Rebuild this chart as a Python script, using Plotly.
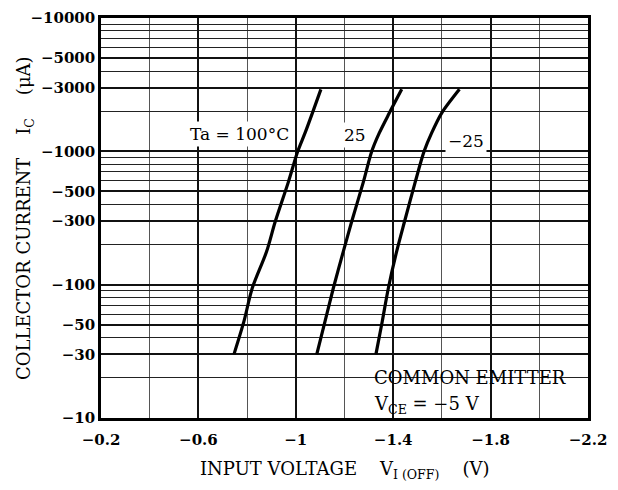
import plotly.graph_objects as go

# ---- data ----
i_pts = [30, 53, 94, 177, 295, 585, 1000, 1374, 1936, 2917]
v_100 = [-0.746, -0.787, -0.821, -0.880, -0.915, -0.969, -1.008, -1.038, -1.068, -1.103]
v_25 = [-1.086, -1.120, -1.154, -1.195, -1.229, -1.277, -1.312, -1.343, -1.384, -1.435]
v_m25 = [-1.329, -1.355, -1.380, -1.414, -1.446, -1.490, -1.527, -1.558, -1.599, -1.672]

x_ticks = [-0.2, -0.6, -1.0, -1.4, -1.8, -2.2]
x_ticktext = ["\u22120.2", "\u22120.6", "\u22121", "\u22121.4", "\u22121.8", "\u22122.2"]
x_minor = [-0.4, -0.8, -1.2, -1.6, -2.0]

y_ticks = [10, 30, 50, 100, 300, 500, 1000, 3000, 5000, 10000]
y_ticktext = ["\u221210", "\u221230", "\u221250", "\u2212100", "\u2212300", "\u2212500",
              "\u22121000", "\u22123000", "\u22125000", "\u221210000"]
y_minor = [20, 40, 60, 70, 80, 90, 200, 400, 600, 700, 800, 900,
           2000, 4000, 6000, 7000, 8000, 9000]

FONT = "DejaVu Serif"

fig = go.Figure()
for v in [v_100, v_25, v_m25]:
    fig.add_trace(go.Scatter(x=v, y=i_pts, mode="lines",
                             line=dict(color="black", width=3.2, shape="spline", smoothing=0.8),
                             showlegend=False, hoverinfo="skip"))

# page body has an 8px default margin: figure is sized/offset to compensate
fig.update_layout(
    width=610, height=482,
    margin=dict(l=93, r=30, t=10, b=72),
    paper_bgcolor="white", plot_bgcolor="white",
    font=dict(family=FONT, color="black", size=15),
    xaxis=dict(range=[-0.2, -2.2], tickvals=x_ticks, ticktext=x_ticktext,
               automargin=False, ticklabelstandoff=6, ticklabeloverflow="allow",
               showgrid=True, gridcolor="#111", gridwidth=2,
               minor=dict(tickvals=x_minor, showgrid=True, gridcolor="#555", gridwidth=1.2, ticklen=0),
               showline=True, linecolor="black", linewidth=2.5, mirror=True,
               ticks="", zeroline=False,
               tickfont=dict(family=FONT, size=15, weight="bold")),
    yaxis=dict(type="log", range=[1, 4], tickvals=y_ticks, ticktext=y_ticktext,
               automargin=False, ticklabeloverflow="allow",
               showgrid=True, gridcolor="#111", gridwidth=1.5,
               minor=dict(tickvals=y_minor, showgrid=True, gridcolor="#222", gridwidth=1.2, ticklen=0),
               showline=True, linecolor="black", linewidth=2.5, mirror=True,
               ticks="", zeroline=False,
               tickfont=dict(family=FONT, size=15, weight="bold")),
)

# white box with conditions
fig.add_shape(type="rect", xref="x", yref="y", x0=-1.2, x1=-2.2, y0=1.0, y1=1.455,
              fillcolor="white", line=dict(color="black", width=1.5), layer="above")

ann = [
    dict(x=-0.767, y=3.131, text="Ta = 100\u00b0C"),
    dict(x=-1.243, y=3.123, text="25"),
    dict(x=-1.699, y=3.079, text="\u221225"),
]
for a in ann:
    fig.add_annotation(x=a["x"], y=a["y"], xref="x", yref="y", text=a["text"],
                       showarrow=False, font=dict(family=FONT, size=17),
                       bgcolor="white", borderpad=2)

fig.add_annotation(x=-1.313, y=1.304, xref="x", yref="y", text="COMMON EMITTER",
                   showarrow=False, xanchor="left", font=dict(family=FONT, size=18))
fig.add_annotation(x=-1.313, y=1.097, xref="x", yref="y",
                   text="V<sub>CE</sub> = \u22125 V",
                   showarrow=False, xanchor="left", font=dict(family=FONT, size=18))

# axis titles
fig.add_annotation(x=0.5, y=0, xref="paper", yref="paper", yshift=-52,
                   text="INPUT VOLTAGE    V<sub>I (OFF)</sub>    (V)",
                   showarrow=False, xanchor="center", yanchor="middle",
                   font=dict(family=FONT, size=18))
fig.add_annotation(x=0, y=0.5, xref="paper", yref="paper", xshift=-76,
                   text="COLLECTOR CURRENT    I<sub>C</sub>    (\u03bcA)",
                   textangle=-90, showarrow=False, xanchor="center", yanchor="middle",
                   font=dict(family=FONT, size=18))

fig.write_html("out.html")
